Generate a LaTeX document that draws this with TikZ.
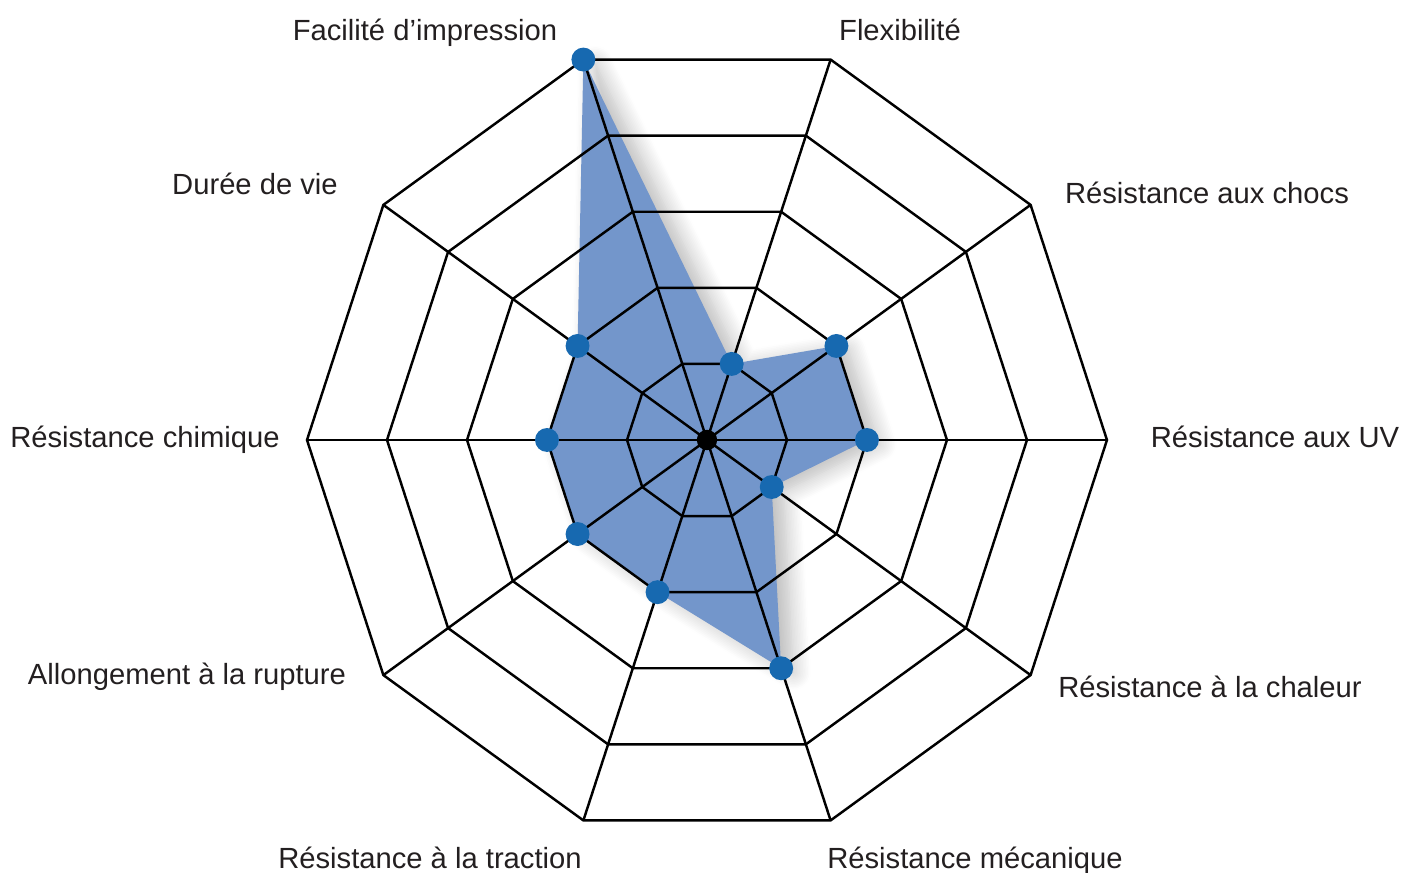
\documentclass[tikz,border=0pt]{standalone}
\usepackage{fontspec}
\setmainfont{Liberation Sans}
\usetikzlibrary{shadows.blur}
\definecolor{areablue}{RGB}{115,150,203}
\definecolor{dotblue}{RGB}{23,105,176}
\definecolor{labelgray}{RGB}{35,31,32}
\begin{document}
\begin{tikzpicture}[x=.01cm,y=.01cm,every node/.style={font=\fontsize{8.3}{10}\selectfont,text=labelgray},
  grid/.style={line width=.7pt,black},
  area/.style={fill=areablue,blur shadow={shadow xshift=.12cm,shadow yshift=-.04cm,shadow blur radius=.18cm,shadow blur steps=12,shadow opacity=28}}]
		\useasboundingbox(-707,-433)rectangle(695,440);
		\coordinate(O)at(0,0);
		% values on the 10 axes, step 80
		\foreach\a/\v[count=\i]in{0/2,36/2,72/1,108/5,144/2,180/2,216/2,252/2,288/3,324/1}{\coordinate(P\i)at(\a:\v*80);}
		\path[area](P1)--(P2)--(P3)--(P4)--(P5)--(P6)--(P7)--(P8)--(P9)--(P10)--cycle;
		\foreach\r in{80,160,...,400}{\draw[grid](0:\r)\foreach\a in{36,72,...,324}{--(\a:\r)}--cycle;}
		\foreach\a in{0,36,...,324}{\draw[grid](O)--(\a:400);}
		\foreach\i in{1,...,10}{\fill[dotblue](P\i)circle(3.4pt);}
		\fill[black](O)circle(2.9pt);
		\node(uv)at(568,3){Résistance aux UV};
		\node(chocs)at(500,247){Résistance aux chocs};
		\node(flex)at(193,410){Flexibilité};
		\node(impr)at(-282,407){Facilité d’impression};
		\node(vie)at(-452,256){Durée de vie};
		\node(chim)at(-562,0){Résistance chimique};
		\node(allong)at(-520,-237){Allongement à la rupture};
		\node(tract)at(-277,-418){Résistance à la traction};
		\node(meca)at(268,-421){Résistance mécanique};
		\node(chal)at(503,-247){Résistance à la chaleur};
		\end{tikzpicture}
\end{document}
